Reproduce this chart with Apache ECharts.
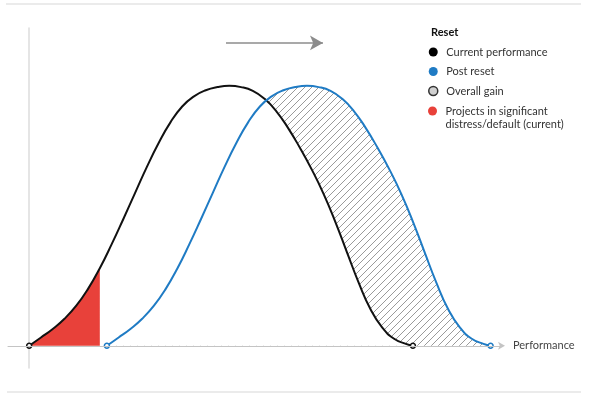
<!DOCTYPE html>
<html>
<head>
<meta charset="utf-8">
<script src="https://cdn.jsdelivr.net/npm/echarts@6/dist/echarts.min.js"></script>
<style>
  html, body { margin: 0; padding: 0; background: #fff; }
  #chart { width: 589px; height: 396px; }
</style>
</head>
<body>
<div id="chart"></div>
<script>
// curves: [performance, frequency]
const currentPerf = [
  [0, 0], [2.5, 2.6], [5, 5.3], [7.5, 8.5], [10, 12.6], [12.5, 17.9], [15, 24.4],
  [17.5, 31.9], [20, 39.9], [22.5, 48.1], [25, 56.3], [27.5, 63.8], [30, 70.3],
  [32.5, 75.3], [35, 78.5], [37.5, 80.4], [40, 81.4], [42.5, 81.8], [45, 81.4],
  [47.5, 80.2], [50, 77.7], [52.5, 73.8], [55, 68.5], [57.5, 62.3], [60, 55.5],
  [62.5, 47.9], [65, 39.1], [67.5, 29.4], [70, 19.8], [72.5, 11.5], [75, 5.7],
  [77.5, 2.2], [80, 0.6], [81.5, 0]
];
const postReset = [
  [16.5, 0], [19, 2.6], [21.5, 5.3], [24, 8.5], [26.5, 12.6], [29, 17.9], [31.5, 24.4],
  [34, 31.9], [36.5, 39.9], [39, 48.1], [41.5, 56.3], [44, 63.8], [46.5, 70.3],
  [49, 75.3], [51.5, 78.5], [54, 80.4], [56.5, 81.4], [59, 81.8], [61.5, 81.4],
  [64, 80.2], [66.5, 77.7], [69, 73.8], [71.5, 68.5], [74, 62.3], [76.5, 55.5],
  [79, 47.9], [81.5, 39.1], [84, 29.4], [86.5, 19.8], [89, 11.5], [91.5, 5.7],
  [94, 2.2], [96.5, 0.6], [98, 0]
];
// distress share ends where the red fill stops
const distressEnd = 15;
const distress = currentPerf.filter((p) => p[0] <= distressEnd);

// arrow above the peaks (data coords)
const arrowStart = [41.8, 95.3];
const arrowEnd = [62.4, 95.3];

const distressName = "Projects in significant distress/default (current)";

// hatch pattern for the gain area
function hatch() {
  let c = document.createElement("canvas");
  let s = 7;
  c.width = s;
  c.height = s;
  let ctx = c.getContext("2d");
  ctx.strokeStyle = "#9a9a9a";
  ctx.lineWidth = 1;
  ctx.beginPath();
  ctx.moveTo(0, s); ctx.lineTo(s, 0);
  ctx.moveTo(-1, 1); ctx.lineTo(1, -1);
  ctx.moveTo(s - 1, s + 1); ctx.lineTo(s + 1, s - 1);
  ctx.stroke();
  return c;
}

// only the end points get a marker
function withEnds(data, color) {
  return data.map((p, i) => {
    if (i == 0 || i == data.length - 1) {
      return {
        value: p,
        symbol: "circle",
        symbolSize: 5,
        itemStyle: { color: "#fff", borderColor: color, borderWidth: 1.5 },
      };
    }
    return p;
  });
}

let chart = echarts.init(document.getElementById("chart"));

let option = {
  animation: false,
  textStyle: { fontFamily: "Lato" },
  title: {
    text: "Reset",
    left: 431,
    top: 27,
    padding: 0,
    textStyle: { fontSize: 11, fontWeight: "bold", color: "#111", fontFamily: "Lato" },
  },
  legend: [
    {
      orient: "vertical",
      left: 428,
      top: 45.5,
      padding: 0,
      itemWidth: 16,
      itemHeight: 9,
      itemGap: 6.5,
      icon: "circle",
      selectedMode: false,
      textStyle: { fontSize: 11, color: "#333", lineHeight: 13 },
      data: [
        { name: "Current performance", itemStyle: { color: "#000" } },
        { name: "Post reset", itemStyle: { color: "#1f7bc4" } },
        { name: "Overall gain", itemStyle: { color: "#d0d0d0", borderColor: "#333", borderWidth: 1.5 } },
      ],
    },
    {
      orient: "vertical",
      left: 428,
      top: 91.5,
      padding: 0,
      itemWidth: 16,
      itemHeight: 9,
      icon: "circle",
      selectedMode: false,
      // empty first line keeps the dot level with "Projects..."
      formatter: () => "\nProjects in significant\ndistress/default (current)",
      textStyle: { fontSize: 11, color: "#333", lineHeight: 13 },
      data: [{ name: distressName, itemStyle: { color: "#e8413a" } }],
    },
  ],
  graphic: [
    { type: "line", shape: { x1: 6, y1: 4, x2: 581, y2: 4 }, style: { stroke: "#e4e4e4", lineWidth: 1.5 } },
    { type: "line", shape: { x1: 7, y1: 392, x2: 581, y2: 392 }, style: { stroke: "#e4e4e4", lineWidth: 1.5 } },
  ],
  grid: { left: 8, right: 89, top: 28, bottom: 28 },
  xAxis: {
    type: "value",
    min: -4.5,
    max: 100,
    z: 10,
    name: "Performance",
    nameLocation: "end",
    nameGap: 13,
    nameTextStyle: { fontSize: 11, color: "#444", fontFamily: "Lato" },
    axisLine: {
      show: true,
      onZero: true,
      symbol: ["none", "arrow"],
      symbolSize: [6, 7],
      symbolOffset: [0, 5],
      lineStyle: { color: "#c4c4c4", width: 1 },
    },
    axisTick: { show: false },
    axisLabel: { show: false },
    splitLine: { show: false },
  },
  yAxis: {
    type: "value",
    min: -7,
    max: 100,
    axisLine: { show: true, onZero: true, lineStyle: { color: "#dcdcdc", width: 1.5 } },
    axisTick: { show: false },
    axisLabel: { show: false },
    splitLine: { show: false },
  },
  series: [
    {
      name: "Overall gain",
      type: "line",
      smooth: true,
      symbol: "none",
      z: 1,
      data: postReset,
      lineStyle: { width: 0 },
      itemStyle: { color: "#d0d0d0" },
      areaStyle: { color: { image: hatch(), repeat: "repeat" }, opacity: 1 },
    },
    {
      // white cover so the hatch only shows between the two curves
      name: "cover",
      type: "line",
      smooth: true,
      symbol: "none",
      z: 2,
      data: currentPerf,
      lineStyle: { width: 0 },
      areaStyle: { color: "#fff", opacity: 1 },
      silent: true,
    },
    {
      name: distressName,
      type: "line",
      smooth: true,
      symbol: "none",
      z: 3,
      data: distress,
      lineStyle: { width: 0 },
      itemStyle: { color: "#e8413a" },
      areaStyle: { color: "#e8413a", opacity: 1 },
    },
    {
      name: "Current performance",
      type: "line",
      smooth: true,
      symbol: "none",
      z: 4,
      data: withEnds(currentPerf, "#111"),
      itemStyle: { color: "#000" },
      lineStyle: { color: "#111", width: 2 },
    },
    {
      name: "Post reset",
      type: "line",
      smooth: true,
      symbol: "none",
      z: 4,
      data: withEnds(postReset, "#1f7bc4"),
      itemStyle: { color: "#1f7bc4" },
      lineStyle: { color: "#1f7bc4", width: 2 },
      markLine: {
        silent: true,
        symbol: ["none", "arrow"],
        symbolSize: [11, 13],
        label: { show: false },
        lineStyle: { color: "#8c8c8c", width: 1.5, type: "solid" },
        data: [[{ coord: arrowStart }, { coord: arrowEnd }]],
      },
    },
  ],
};

chart.setOption(option);
</script>
</body>
</html>
